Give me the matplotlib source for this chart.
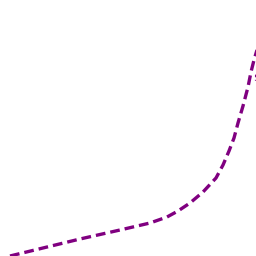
import matplotlib
matplotlib.use("Agg")
import matplotlib.pyplot as plt

x_vals = [10, 80, 120, 150, 167, 178, 190, 203, 216, 223, 229, 234, 238, 243, 248, 251, 254, 257]
y_vals = [0, 17, 26, 33, 39, 45, 53, 64, 78, 91, 105, 118, 133, 150, 169, 184, 196, 206]
end_label = "$"

plt.rcParams['lines.scale_dashes'] = False
fig = plt.figure(figsize=(2.56, 2.56), dpi=100)
ax = fig.add_axes([0, 0, 1, 1])
ax.plot(x_vals, y_vals, color="#800080", linewidth=2.4, linestyle="--",
        dashes=(7.0, 3.6), solid_capstyle="butt", dash_capstyle="butt",
        solid_joinstyle="round", clip_on=False)
ax.text(253, 178, end_label, color="#800080", fontsize=8, ha="left", va="center")
ax.set_xlim(0, 256)
ax.set_ylim(0, 256)
ax.axis("off")
fig.savefig("out.png", dpi=100)
